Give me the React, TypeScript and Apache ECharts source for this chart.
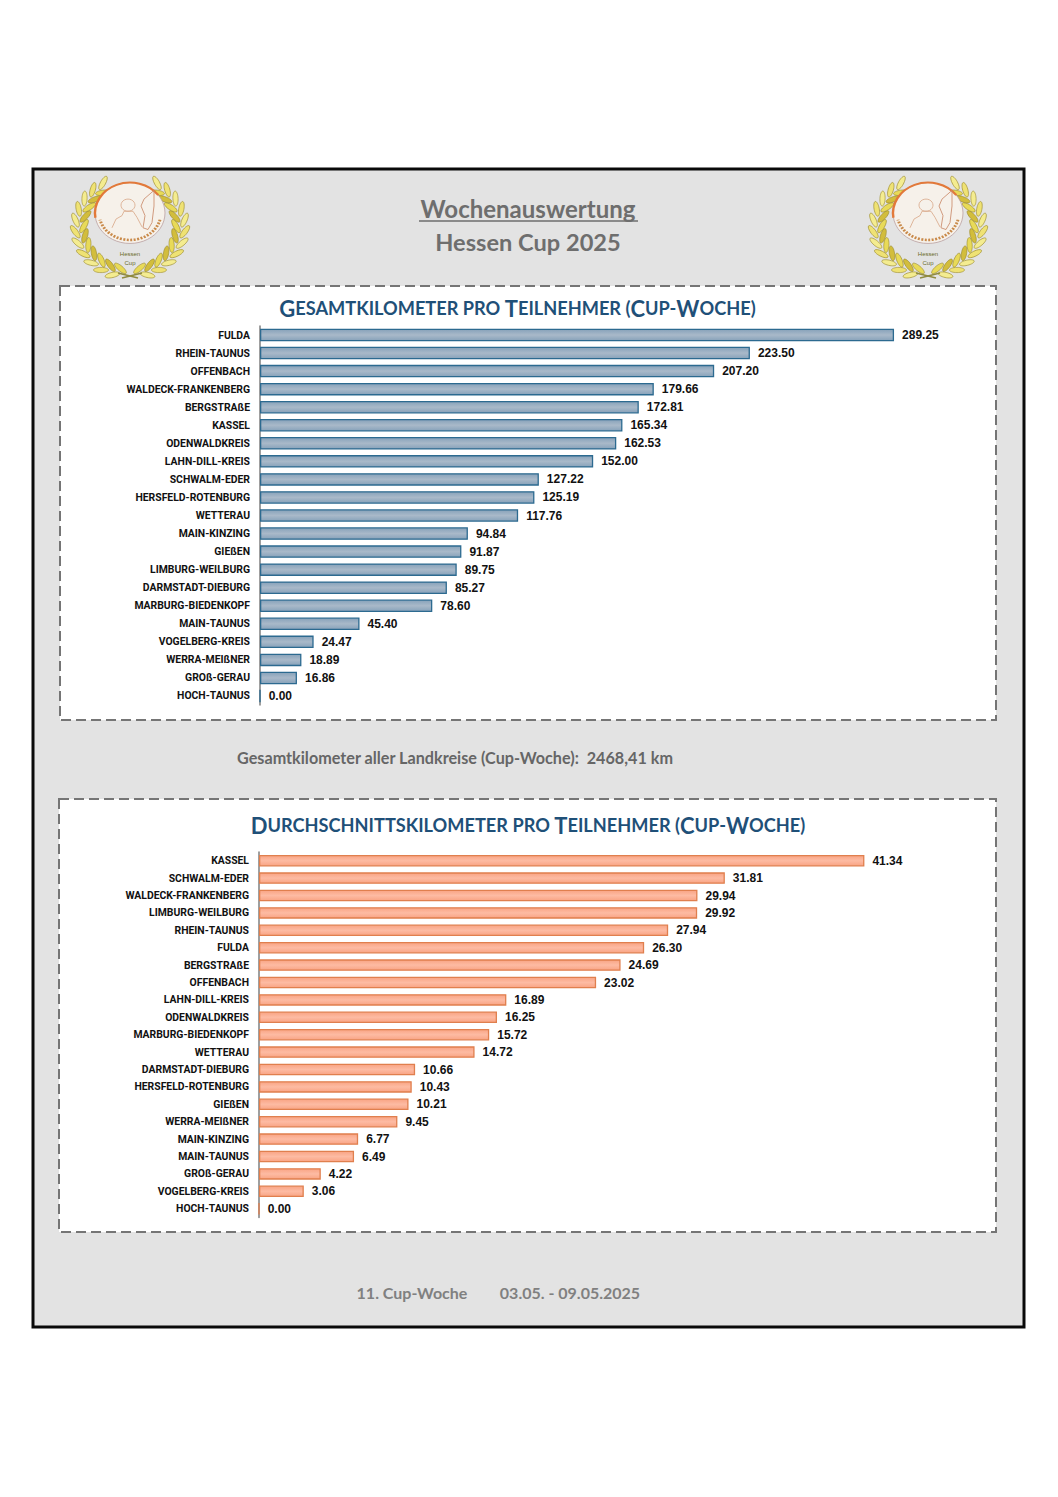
import React, { useEffect, useRef } from "react";
import * as echarts from "echarts";

const totalCategories = ["FULDA","RHEIN-TAUNUS","OFFENBACH","WALDECK-FRANKENBERG","BERGSTRAßE","KASSEL","ODENWALDKREIS","LAHN-DILL-KREIS","SCHWALM-EDER","HERSFELD-ROTENBURG","WETTERAU","MAIN-KINZING","GIEßEN","LIMBURG-WEILBURG","DARMSTADT-DIEBURG","MARBURG-BIEDENKOPF","MAIN-TAUNUS","VOGELBERG-KREIS","WERRA-MEIßNER","GROß-GERAU","HOCH-TAUNUS"];
const totalValues = [289.25,223.5,207.2,179.66,172.81,165.34,162.53,152.0,127.22,125.19,117.76,94.84,91.87,89.75,85.27,78.6,45.4,24.47,18.89,16.86,0];
const avgCategories = ["KASSEL","SCHWALM-EDER","WALDECK-FRANKENBERG","LIMBURG-WEILBURG","RHEIN-TAUNUS","FULDA","BERGSTRAßE","OFFENBACH","LAHN-DILL-KREIS","ODENWALDKREIS","MARBURG-BIEDENKOPF","WETTERAU","DARMSTADT-DIEBURG","HERSFELD-ROTENBURG","GIEßEN","WERRA-MEIßNER","MAIN-KINZING","MAIN-TAUNUS","GROß-GERAU","VOGELBERG-KREIS","HOCH-TAUNUS"];
const avgValues = [41.34,31.81,29.94,29.92,27.94,26.3,24.69,23.02,16.89,16.25,15.72,14.72,10.66,10.43,10.21,9.45,6.77,6.49,4.22,3.06,0];

const HEAD = "Lato, Carlito, 'Open Sans', sans-serif";
const ARIAL = "'Liberation Sans', Arial, sans-serif";
const LABEL = "Roboto, 'Liberation Sans', Arial, sans-serif";

function smallCaps(parts: [string, string][]) {
  return parts.map(([big, small]) => `{b|${big}}{s|${small}}`).join("");
}

// Decorative logo: laurel wreath around a round emblem. Origin = emblem centre.
function laurel(cx: number, cy: number) {
  const kids: any[] = [];
  const wy = 14;
  const fills = ["#e8da58", "#f4ec90", "#d2bd3c", "#efe274"];
  for (const side of [-1, 1]) {
    for (let i = 0; i < 22; i++) {
      const deg = 78 - i * 6.6;
      const a = (deg * Math.PI) / 180;
      const outer = i % 2 === 1;
      const r = outer ? 55 : 46;
      const tx = Math.sin(a), ty = -Math.cos(a);
      const splay = outer ? 0.55 : -0.5;
      const dx = tx * Math.cos(splay) + Math.cos(a) * Math.sin(splay);
      const dy = ty * Math.cos(splay) + Math.sin(a) * Math.sin(splay);
      kids.push({
        type: "ellipse",
        x: side * Math.cos(a) * r,
        y: wy + Math.sin(a) * r * 0.92,
        rotation: Math.atan2(side * dx, dy),
        shape: { cx: 0, cy: 0, rx: 2.6, ry: 7.5 },
        style: { fill: fills[i % 4], stroke: "#9a8a2a", lineWidth: 0.6 },
      });
    }
    kids.push({ type: "polyline", shape: { points: [[side * 12, 60], [side * -8, 65]] }, style: { stroke: "#8f8a40", lineWidth: 1.5 } });
  }
  const emblem: any[] = [
    { type: "circle", shape: { cx: 0, cy: 0, r: 35 }, style: { fill: "#f6f1ea", stroke: "#b79a9a", lineWidth: 0.8 } },
    { type: "arc", shape: { cx: 0, cy: 0, r: 35, startAngle: Math.PI * 0.95, endAngle: Math.PI * 1.8 }, style: { fill: "none", stroke: "#e2793a", lineWidth: 2.4 } },
    { type: "arc", shape: { cx: 0, cy: 0, r: 31, startAngle: Math.PI * 0.08, endAngle: Math.PI * 0.92 }, style: { fill: "none", stroke: "#c98a4a", lineWidth: 3, lineDash: [2, 1.5] } },
    { type: "circle", shape: { cx: -2, cy: -9, r: 7 }, style: { fill: "none", stroke: "#d9a98a", lineWidth: 0.9 } },
    { type: "polyline", shape: { points: [[-18, 17], [-14, 7], [-8, 3], [-6, -2], [3, -2], [7, 5], [12, 16]] }, style: { fill: "none", stroke: "#d9a98a", lineWidth: 0.9 } },
    { type: "polyline", shape: { points: [[24, -26], [14, -16], [11, -8], [15, 3], [13, 17], [18, 19], [22, 11], [24, -8], [24, -26]] }, style: { fill: "none", stroke: "#c98a6a", lineWidth: 0.9 } },
  ];
  kids.push({ type: "group", scaleY: 0.87, children: emblem });
  kids.push({ type: "text", style: { text: "Hessen\nCup", x: 0, y: 36, fill: "#6b6b2a", font: "6px " + ARIAL, align: "center", lineHeight: 9 } });
  return { type: "group", x: cx, y: cy, silent: true, children: kids };
}

function barSeries(values: number[], axis: number, top: string, mid: string, border: string, width: number) {
  return {
    type: "bar",
    xAxisIndex: axis,
    yAxisIndex: axis,
    data: values,
    barWidth: width,
    itemStyle: {
      color: new echarts.graphic.LinearGradient(0, 0, 0, 1, [
        { offset: 0, color: top },
        { offset: 0.5, color: mid },
        { offset: 1, color: top },
      ]),
      borderColor: border,
      borderWidth: 1.3,
    },
    label: {
      show: true,
      position: "right",
      distance: 8,
      formatter: (p: any) => Number(p.value).toFixed(2),
      color: "#111",
      fontFamily: ARIAL,
      fontWeight: "bold",
      fontSize: 12,
    },
  };
}

function axes(index: number, cats: string[]) {
  return {
    x: { type: "value", gridIndex: index, min: 0, max: index === 0 ? 300 : 45, show: false },
    y: {
      type: "category",
      gridIndex: index,
      data: cats,
      inverse: true,
      axisLine: { show: true, lineStyle: { color: "#7f7f7f", width: 1.5 } },
      axisTick: { show: false },
      axisLabel: { color: "#111", fontFamily: LABEL, fontWeight: "bold", fontSize: 10.4, margin: 10, interval: 0, padding: [2, 0, 0, 0] },
    },
  };
}

const App = () => {
  const ref = useRef<HTMLDivElement>(null);
  useEffect(() => {
    const chart = echarts.init(ref.current!, undefined, { renderer: "svg" });
    const a0 = axes(0, totalCategories);
    const a1 = axes(1, avgCategories);
    const titleRich = {
      b: { fontFamily: HEAD, fontWeight: "bold", fontSize: 22, color: "#1f5078" },
      s: { fontFamily: HEAD, fontWeight: "bold", fontSize: 18.2, color: "#1f5078" },
    };
    const panel = (x: number, y: number, w: number, h: number) => ({
      type: "rect", silent: true, shape: { x, y, width: w, height: h },
      style: { fill: "#ffffff", stroke: "#757575", lineWidth: 2, lineDash: [10, 5] },
    });
    const greyText = (text: string, x: number, y: number, size: number, fill: string, align = "center") => ({
      type: "text", silent: true,
      style: { text, x, y, fill, align, verticalAlign: "middle", font: `bold ${size}px ${HEAD}` },
    });
    chart.setOption({
      animation: false,
      backgroundColor: "#ffffff",
      title: [
        {
          text: smallCaps([["G", "ESAMTKILOMETER PRO "], ["T", "EILNEHMER ("], ["C", "UP-"], ["W", "OCHE)"]]),
          left: 512.5, top: 292, textAlign: "center",
          textStyle: { rich: titleRich },
        },
        {
          text: smallCaps([["D", "URCHSCHNITTSKILOMETER PRO "], ["T", "EILNEHMER ("], ["C", "UP-"], ["W", "OCHE)"]]),
          left: 523, top: 809, textAlign: "center",
          textStyle: { rich: titleRich },
        },
      ],
      graphic: { elements: [
        { type: "rect", silent: true, z: -10, shape: { x: 33, y: 169, width: 991, height: 1158 }, style: { fill: "#e3e3e3", stroke: "#0a0a0a", lineWidth: 3 } },
        { ...panel(60, 286, 936, 434), z: -9 },
        { ...panel(59, 799, 937, 433), z: -9 },
        { ...greyText("Wochenauswertung", 528, 208, 24, "#6e6e6e"), z: 5 },
        { type: "line", silent: true, shape: { x1: 419, y1: 221, x2: 638, y2: 221 }, style: { stroke: "#6e6e6e", lineWidth: 1.5 } },
        greyText("Hessen Cup 2025", 528, 242, 23.6, "#6e6e6e"),
        greyText("Gesamtkilometer aller Landkreise (Cup-Woche):  2468,41 km", 455, 757, 16.2, "#666666"),
        greyText("11. Cup-Woche", 412, 1292, 16, "#808080"),
        greyText("03.05. - 09.05.2025", 570, 1292, 16, "#808080"),
        laurel(130, 213),
        laurel(928, 213),
      ] },
      grid: [
        { left: 260, top: 326, width: 657.6, height: 379 },
        { left: 259, top: 852, width: 659, height: 365.4 },
      ],
      xAxis: [a0.x, a1.x],
      yAxis: [a0.y, a1.y],
      series: [
        barSeries(totalValues, 0, "#87a2ba", "#a9b9c9", "#2c6a90", 12.5),
        barSeries(avgValues, 1, "#f9a484", "#fdbba3", "#e07f4e", 11.5),
      ],
    });
    return () => chart.dispose();
  }, []);
  return <div ref={ref} style={{ position: "absolute", left: 0, top: 0, width: 1058, height: 1497 }} />;
};

export default App;
